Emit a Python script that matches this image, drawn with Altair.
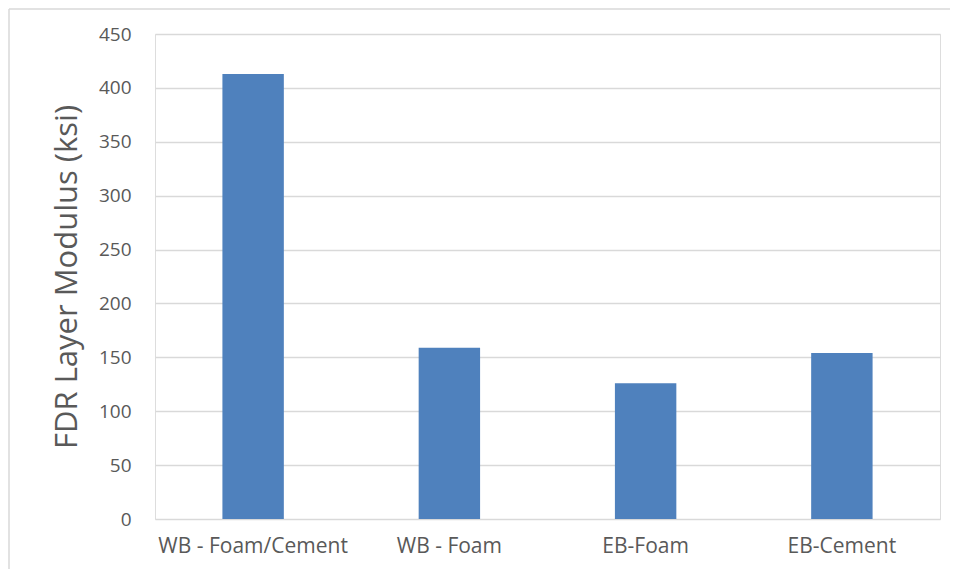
import altair as alt
import pandas as pd

categories = ["WB - Foam/Cement", "WB - Foam", "EB-Foam", "EB-Cement"]
values = [413, 159, 126, 154]
y_ticks = [0, 50, 100, 150, 200, 250, 300, 350, 400, 450]

df = pd.DataFrame({"category": categories, "value": values})

W, H = 785, 485
FONT = "Open Sans"

bars = alt.Chart(df).mark_bar(color="#4F81BD").encode(
    x=alt.X(
        "category:N",
        sort=categories,
        scale=alt.Scale(paddingInner=0.687, paddingOuter=0.3435),
        axis=alt.Axis(
            title=None,
            labelAngle=0,
            labelFont=FONT,
            labelFontSize=21,
            labelColor="#595959",
            labelPadding=16,
            labelLimit=400,
            ticks=False,
            domain=False,
            grid=False,
        ),
    ),
    y=alt.Y(
        "value:Q",
        scale=alt.Scale(domain=[0, 450], nice=False),
        axis=alt.Axis(
            values=y_ticks,
            title="FDR Layer Modulus (ksi)",
            titleFont=FONT,
            titleFontSize=31,
            titleFontWeight="normal",
            titleColor="#595959",
            titleAngle=-90,
            titleX=-88,
            titleY=H / 2,
            titleAlign="center",
            titleBaseline="middle",
            titleLimit=600,
            labelFont=FONT,
            labelFontSize=19,
            labelColor="#595959",
            labelPadding=24,
            ticks=False,
            domain=False,
            grid=True,
            gridColor="#D9D9D9",
            gridWidth=1.5,
        ),
    ),
)

one = pd.DataFrame({"a": [0]})
left_edge = alt.Chart(one).mark_rule(color="#D9D9D9", strokeWidth=1.5).encode(
    x=alt.value(-146), y=alt.value(-25), y2=alt.value(H + 70)
)
top_edge = alt.Chart(one).mark_rule(color="#D9D9D9", strokeWidth=1.5).encode(
    x=alt.value(-146), x2=alt.value(W + 60), y=alt.value(-25)
)

chart = (
    alt.layer(left_edge, top_edge, bars)
    .properties(
        width=W,
        height=H,
        padding={"left": 147, "top": 26, "right": 10, "bottom": 50},
        autosize=alt.AutoSizeParams(type="none"),
    )
    .configure_view(stroke=None)
    .configure(background="white")
)

chart.save("out.html", embed_options={"renderer": "svg", "actions": False})
